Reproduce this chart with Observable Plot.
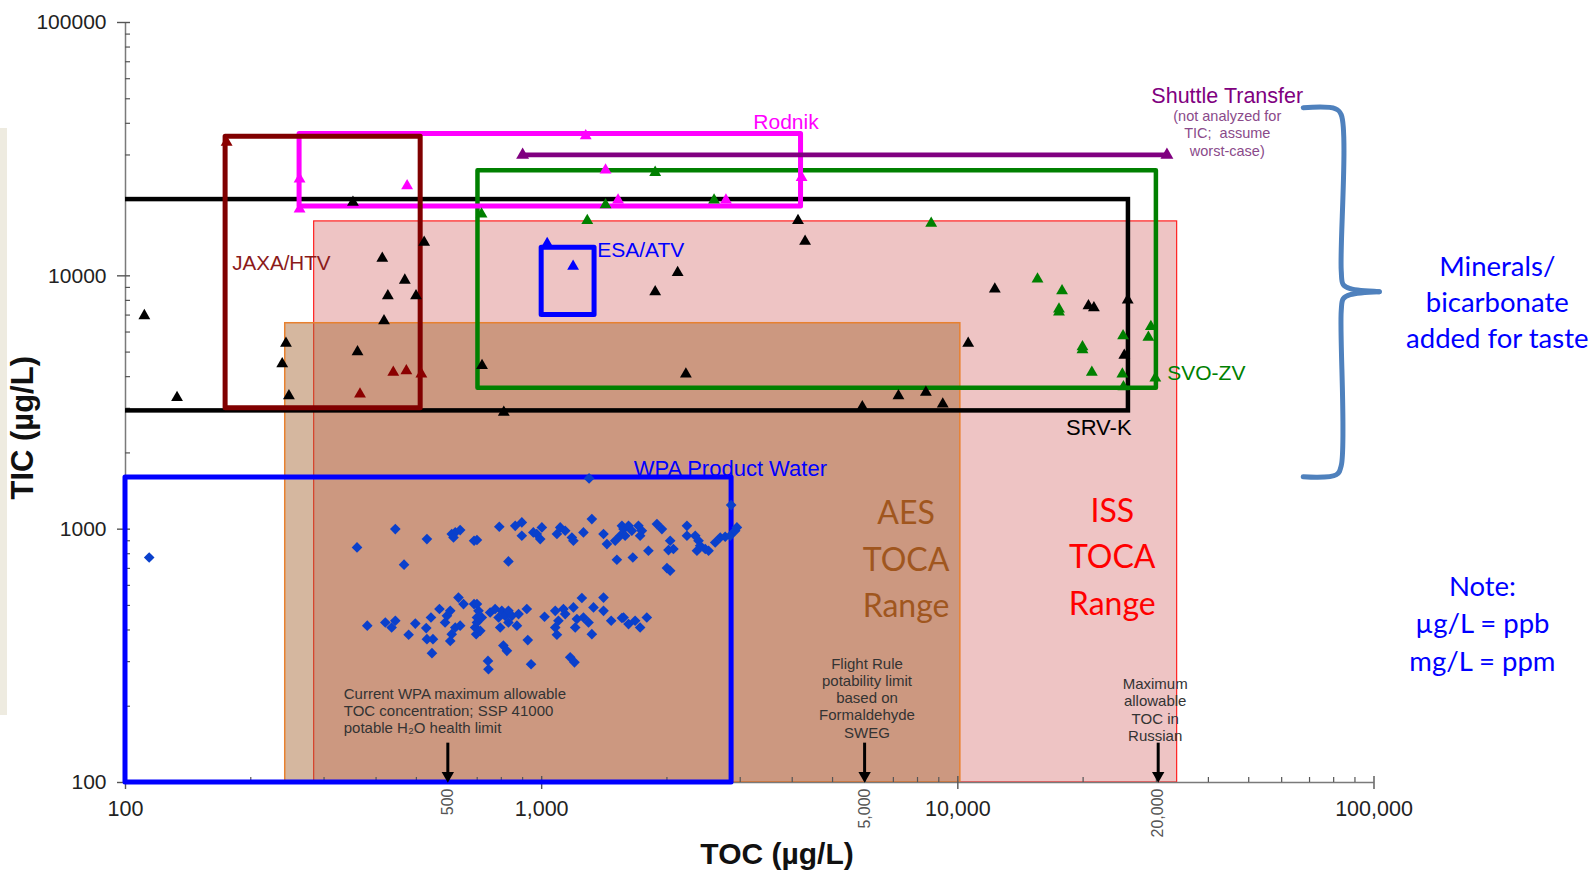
<!DOCTYPE html>
<html>
<head>
<meta charset="utf-8">
<script src="https://cdn.jsdelivr.net/npm/d3@7"></script>
<script src="https://cdn.jsdelivr.net/npm/@observablehq/plot@0.6"></script>
<style>
html, body { margin: 0; padding: 0; background: #fff; }
#chart { position: relative; width: 1595px; height: 872px; overflow: hidden; }
#chart svg { display: block; }
.strip { position: absolute; left: 0; top: 128px; width: 7px; height: 587px; background: #EEEBE0; z-index: 1; }
</style>
</head>
<body>
<div id="chart"><div class="strip"></div></div>
<script>
// ---------- axes ----------
const xMajor = [100, 1000, 10000, 100000];
const xTickLabels = ["100", "1,000", "10,000", "100,000"];
const yMajor = [100, 1000, 10000, 100000];
const yTickLabels = ["100", "1000", "10000", "100000"];
const minorMult = [2, 3, 4, 5, 6, 7, 8, 9];
const decades = [100, 1000, 10000];

// ---------- TOCA ranges ----------
const rangeNames = ["ISS TOCA Range", "AES TOCA Range"];
const rangeX1 = [284, 242];
const rangeX2 = [33650, 10140];
const rangeY1 = [100, 100];
const rangeY2 = [16400, 6500];

// ---------- source boxes ----------
const boxNames = ["SRV-K", "SVO-ZV", "Rodnik", "JAXA/HTV", "ESA/ATV", "WPA Product Water"];
const boxX1 = [90, 703, 262, 174, 1000, 100];
const boxX2 = [25700, 30000, 4200, 512, 1340, 2860];
const boxY1 = [2930, 3600, 18800, 3000, 7000, 100];
const boxY2 = [20000, 26000, 36300, 35400, 12900, 1600];
const boxColors = ["#000000", "#008000", "#FF00FF", "#800000", "#0000FF", "#0000FF"];
const boxWidths = [4.5, 4.5, 5, 5, 5, 5];

// ---------- label positions ----------
const labelTexts = ["SRV-K", "SVO-ZV", "Rodnik", "JAXA/HTV", "ESA/ATV", "WPA Product Water"];
const labelX = [21810, 31850, 3864, 180.4, 1360, 1665];
const labelY = [2513, 4118, 40330, 11160, 12570, 1728];
const labelAnchor = ["middle", "start", "middle", "start", "start", "start"];
const labelColors = ["#000000", "#008000", "#FF00FF", "#8B1A1A", "#0000FF", "#0000FF"];
const labelSizes = [22, 21, 21, 20.6, 21, 22];

// ---------- data points ----------
// SRV-K (black)
const srvkX = [111, 133, 243, 238, 247, 352, 361, 414, 469, 427, 499, 418, 522, 719, 811,
  4130, 4295, 2122, 1874, 2221, 12270, 20600, 21230, 10590, 7200, 8380, 9200, 5895, 25600, 25120];
const srvkY = [6960, 3310, 5410, 4490, 3360, 19500, 5010, 11720, 9610, 8340, 8340, 6650, 13550, 4420, 2890,
  16510, 13680, 10310, 8650, 4095, 8870, 7620, 7470, 5410, 3360, 3470, 3120, 3040, 8030, 4860];
// SVO-ZV (green)
const svoX = [15540, 17800, 17500, 17500, 19930, 19930, 20990, 24950, 24850, 29100, 28700, 29820, 25000,
  1424, 2596, 1287, 8630, 717, 1874];
const svoY = [9700, 8730, 7390, 7200, 5250, 5100, 4160, 5800, 4095, 6300, 5720, 3950, 3650,
  19080, 19900, 16510, 16110, 17540, 25590];
// Rodnik (magenta)
const rodnikX = [262, 262, 475, 1276, 1424, 1526, 2772, 4213];
const rodnikY = [24100, 18350, 22680, 35700, 26170, 19900, 19900, 24430];
// JAXA/HTV (dark red)
const jaxaX = [175, 440, 473, 514, 366];
const jaxaY = [33630, 4160, 4220, 4095, 3415];
// ESA/ATV (blue)
const esaX = [1190, 1031];
const esaY = [10890, 13400];
// Shuttle transfer (purple)
const shuttleX = [900, 31800];
const shuttleY = [30000, 30000];
// WPA product water (blue diamonds)
const wpaX = [
  114,
  360, 445, 467, 530, 608, 620, 637, 614, 688, 699, 791, 864, 896, 896, 955, 1001, 992, 973, 832,
  1108, 1088, 1139, 1182, 1192, 1260, 1320, 1408, 1435, 1502, 1559, 1544, 1516,
  1573, 1617, 1587, 1647, 1708, 1741, 1724, 1892, 1945, 2036, 2017, 2073, 1805, 1656, 2000, 2036,
  2234, 2234, 2339, 2382, 2404, 2361, 2472, 2518, 2612, 2686, 2761, 2838, 2917, 2945, 2853, 1300,
  381, 421, 436, 445, 479, 497, 528, 542, 530, 548, 545, 568, 592, 603, 586, 631, 649,
  620, 637, 608, 603, 688, 699, 692, 696,
  699, 705, 718, 699, 712, 752, 773, 788, 802, 817, 832, 795, 832, 872, 848, 880, 921, 926,
  809, 825, 743, 745, 943, 1016, 1078, 1097, 1139, 1128, 1192, 1078, 1088, 1249,
  1215, 1260, 1296, 1204, 1320, 1332, 1408, 1408, 1469, 1559, 1171, 1199,
  1573, 1617, 1677, 1724, 1789];
const wpaY = [
  773,
  847, 1001, 724, 914, 957, 971, 992, 927, 900, 906, 1022, 1031, 1063, 942, 971, 1016, 914, 957, 746,
  1016, 957, 986, 927, 900, 971, 1096, 957, 873, 900, 1031, 942, 757,
  1001, 1031, 942, 986, 1031, 986, 942, 1047, 1001, 900, 827, 835, 822, 773, 702, 685,
  1031, 942, 942, 900, 860, 822, 835, 822, 886, 927, 933, 942, 986, 1016, 1245, 1586,
  416, 428, 409, 435, 383, 424, 407, 448, 368, 368, 324, 484, 455, 476, 428, 537, 506,
  409, 416, 385, 362, 506, 448, 409, 385,
  506, 476, 448, 428, 397, 469, 484, 448, 476, 455, 476, 409, 428, 416, 455, 462, 484, 365,
  347, 331, 302, 280, 293, 451, 476, 435, 462, 484, 491, 409, 383, 535,
  442, 448, 428, 409, 385, 491, 537, 476, 435, 446, 312, 298,
  448, 422, 435, 409, 448];

// ---------- annotations ----------
const annoX = [595, 5970, 30300];
const annoTickLabels = ["500", "5,000", "20,000"];
const noteTexts = [
  "Current WPA maximum allowable\nTOC concentration; SSP 41000\npotable H\u2082O health limit",
  "Flight Rule\npotability limit\nbased on\nFormaldehyde\nSWEG",
  "Maximum\nallowable\nTOC in\nRussian"];
const noteX = [334.5, 6050, 29800];
const noteY = [192, 216.5, 194];
const noteAnchor = ["start", "middle", "middle"];

// brace (Minerals/bicarbonate)
const braceUpperX = [67600, 80720, 83420, 83420, 84350, 87700, 103000];
const braceUpperY = [46100, 45680, 43250, 10476, 9225, 8894, 8655];
const braceLowerX = [103000, 87700, 84350, 83420, 83420, 81170, 67600];
const braceLowerY = [8655, 8423, 8123, 7282, 1780, 1640, 1610];

const zip = (xs, ys) => xs.map((x, i) => ({x, y: ys[i]}));
const idx = n => d3.range(n);

const arial = "'Liberation Sans', Arial, Helvetica, sans-serif";
const calibri = "Lato, 'Open Sans', sans-serif";

const frameW = 1595 - 125 - 221.5;
const frameH = 872 - 22 - 90;

const tri = (xs, ys, color, r = 4.4) =>
  Plot.dot(zip(xs, ys), {x: "x", y: "y", symbol: "triangle", r, fill: color, stroke: "none"});

const byAnchor = (n, anchors, a) => idx(n).filter(i => anchors[i] === a);

const chart = Plot.plot({
  width: 1595,
  height: 872,
  marginLeft: 125,
  marginRight: 221.5,
  marginTop: 22,
  marginBottom: 90,
  x: {type: "log", domain: [100, 100000], axis: null},
  y: {type: "log", domain: [100, 100000], axis: null},
  style: {background: "#fff", fontFamily: arial, overflow: "visible"},
  marks: [
    // TOCA ranges
    Plot.rect([0], {x1: () => rangeX1[0], x2: () => rangeX2[0], y1: () => rangeY1[0], y2: () => rangeY2[0],
      fill: "#EEC4C4", stroke: "#FF2020", strokeWidth: 1.2}),
    Plot.rect([1], {x1: () => rangeX1[1], x2: () => rangeX2[1], y1: () => rangeY1[1], y2: () => rangeY2[1],
      fill: "rgb(166,103,52)", fillOpacity: 0.47, stroke: "#E8812F", strokeWidth: 1.5}),

    // axis lines
    Plot.ruleX([100], {stroke: "#7a7a7a", strokeWidth: 1.5}),
    Plot.ruleY([100], {stroke: "#7a7a7a", strokeWidth: 1.5}),
    // minor ticks
    Plot.ruleX(decades.flatMap(d => minorMult.map(m => m * d)), {x: d => d, insetTop: frameH - 5, stroke: "#555", strokeWidth: 1.2}),
    Plot.ruleY(decades.flatMap(d => minorMult.map(m => m * d)), {y: d => d, insetRight: frameW - 5, stroke: "#555", strokeWidth: 1.2}),
    // major ticks
    Plot.ruleX(xMajor, {x: d => d, insetTop: frameH - 6, insetBottom: -7, stroke: "#555", strokeWidth: 1.4}),
    Plot.ruleY(yMajor, {y: d => d, insetLeft: -8, insetRight: frameW - 5, stroke: "#555", strokeWidth: 1.4}),
    // tick labels
    Plot.text(xMajor, {x: d => d, frameAnchor: "bottom", lineAnchor: "middle", textAnchor: "middle", dy: 27,
      text: (d, i) => xTickLabels[i], fontSize: 21.5, fill: "#222", fontFamily: arial}),
    Plot.text(yMajor, {y: d => d, frameAnchor: "left", lineAnchor: "middle", dx: -19, textAnchor: "end",
      text: (d, i) => yTickLabels[i], fontSize: 21, fill: "#222", fontFamily: arial}),
    Plot.text(annoX, {x: d => d, frameAnchor: "bottom", lineAnchor: "middle", dy: 6, rotate: -90, textAnchor: "end",
      text: (d, i) => annoTickLabels[i], fontSize: 16, fill: "#555", fontFamily: arial}),
    // axis titles
    Plot.text(["TOC (\u00b5g/L)"], {x: () => 3678, frameAnchor: "bottom", lineAnchor: "middle", textAnchor: "middle",
      dy: 72, text: d => d, fontSize: 30, fontWeight: "bold", fill: "#111", fontFamily: arial}),
    Plot.text(["TIC (\u00b5g/L)"], {y: () => 2513, frameAnchor: "left", lineAnchor: "middle", textAnchor: "middle",
      dx: -102, rotate: -90, text: d => d, fontSize: 31, fontWeight: "bold", fill: "#111", fontFamily: arial}),

    // source boxes
    Plot.rect([0], {x1: () => boxX1[0], x2: () => boxX2[0], y1: () => boxY1[0], y2: () => boxY2[0],
      fill: "none", stroke: boxColors[0], strokeWidth: boxWidths[0], clip: true}),
    ...[1, 2, 3, 4, 5].map(i => Plot.rect([i], {x1: () => boxX1[i], x2: () => boxX2[i], y1: () => boxY1[i], y2: () => boxY2[i],
      fill: "none", stroke: boxColors[i], strokeWidth: boxWidths[i], strokeLinejoin: "round"})),

    // shuttle transfer line
    Plot.line(zip(shuttleX, shuttleY), {x: "x", y: "y", stroke: "#800080", strokeWidth: 4.8}),
    tri(shuttleX, shuttleY, "#800080", 4.8),

    // points
    Plot.dot(zip(wpaX, wpaY), {x: "x", y: "y", symbol: "diamond2", r: 4.8, fill: "#0A40CC", stroke: "none"}),
    tri(srvkX, srvkY, "#000000"),
    tri(svoX, svoY, "#008000"),
    tri(rodnikX, rodnikY, "#FF00FF"),
    tri(jaxaX, jaxaY, "#8B0000"),
    tri(esaX, esaY, "#0000FF"),

    // arrows
    Plot.ruleX(annoX, {x: d => d, y1: () => 143, y2: () => 104, stroke: "#000", strokeWidth: 3}),
    Plot.dot(annoX, {x: d => d, y: () => 100, dy: -7, symbol: "triangle", rotate: 180, r: 4.6, fill: "#000"}),

    // annotation notes
    ...["start", "middle"].map(a => Plot.text(byAnchor(3, noteAnchor, a), {
      x: i => noteX[i], y: i => noteY[i], text: i => noteTexts[i], textAnchor: a,
      fontSize: 15, lineHeight: 1.15, fill: "#333", fontFamily: arial})),

    // box labels
    ...["start", "middle"].map(a => Plot.text(byAnchor(6, labelAnchor, a), {
      x: i => labelX[i], y: i => labelY[i], text: i => labelTexts[i], textAnchor: a,
      fill: i => labelColors[i], fontSize: i => labelSizes[i], fontFamily: arial})),

    // Shuttle transfer label
    Plot.text(["Shuttle Transfer"], {x: () => 44400, y: () => 51400, text: d => d, fill: "#800080", fontSize: 21.5, fontFamily: arial}),
    Plot.text(["(not analyzed for\nTIC;  assume\nworst-case)"], {x: () => 44400, y: () => 36650, text: d => d,
      fill: "#8A4A8A", fontSize: 14.5, lineHeight: 1.19, fontFamily: arial}),

    // TOCA range labels
    Plot.text(["AES\nTOCA\nRange"], {x: () => 7510, y: () => 785, text: d => d, fill: "#A0561E",
      fontSize: 32, lineHeight: 1.46, fontFamily: calibri}),
    Plot.text(["ISS\nTOCA\nRange"], {x: () => 23500, y: () => 803, text: d => d, fill: "#FF0000",
      fontSize: 32, lineHeight: 1.46, fontFamily: calibri}),

    // brace
    Plot.line(zip(braceUpperX, braceUpperY), {x: "x", y: "y", curve: "catmull-rom", stroke: "#4F81BD", strokeWidth: 5}),
    Plot.line(zip(braceLowerX, braceLowerY), {x: "x", y: "y", curve: "catmull-rom", stroke: "#4F81BD", strokeWidth: 5}),

    // side notes
    Plot.text(["Minerals/\nbicarbonate\nadded for taste"], {x: () => 197800, y: () => 7975, text: d => d,
      fill: "#0000FF", fontSize: 27.5, lineHeight: 1.31, fontFamily: calibri}),
    Plot.text(["Note:\n\u00b5g/L = ppb\nmg/L = ppm"], {x: () => 182200, y: () => 433, text: d => d,
      fill: "#0000FF", fontSize: 27.5, lineHeight: 1.36, fontFamily: calibri})
  ]
});

document.getElementById("chart").appendChild(chart);
</script>
</body>
</html>
